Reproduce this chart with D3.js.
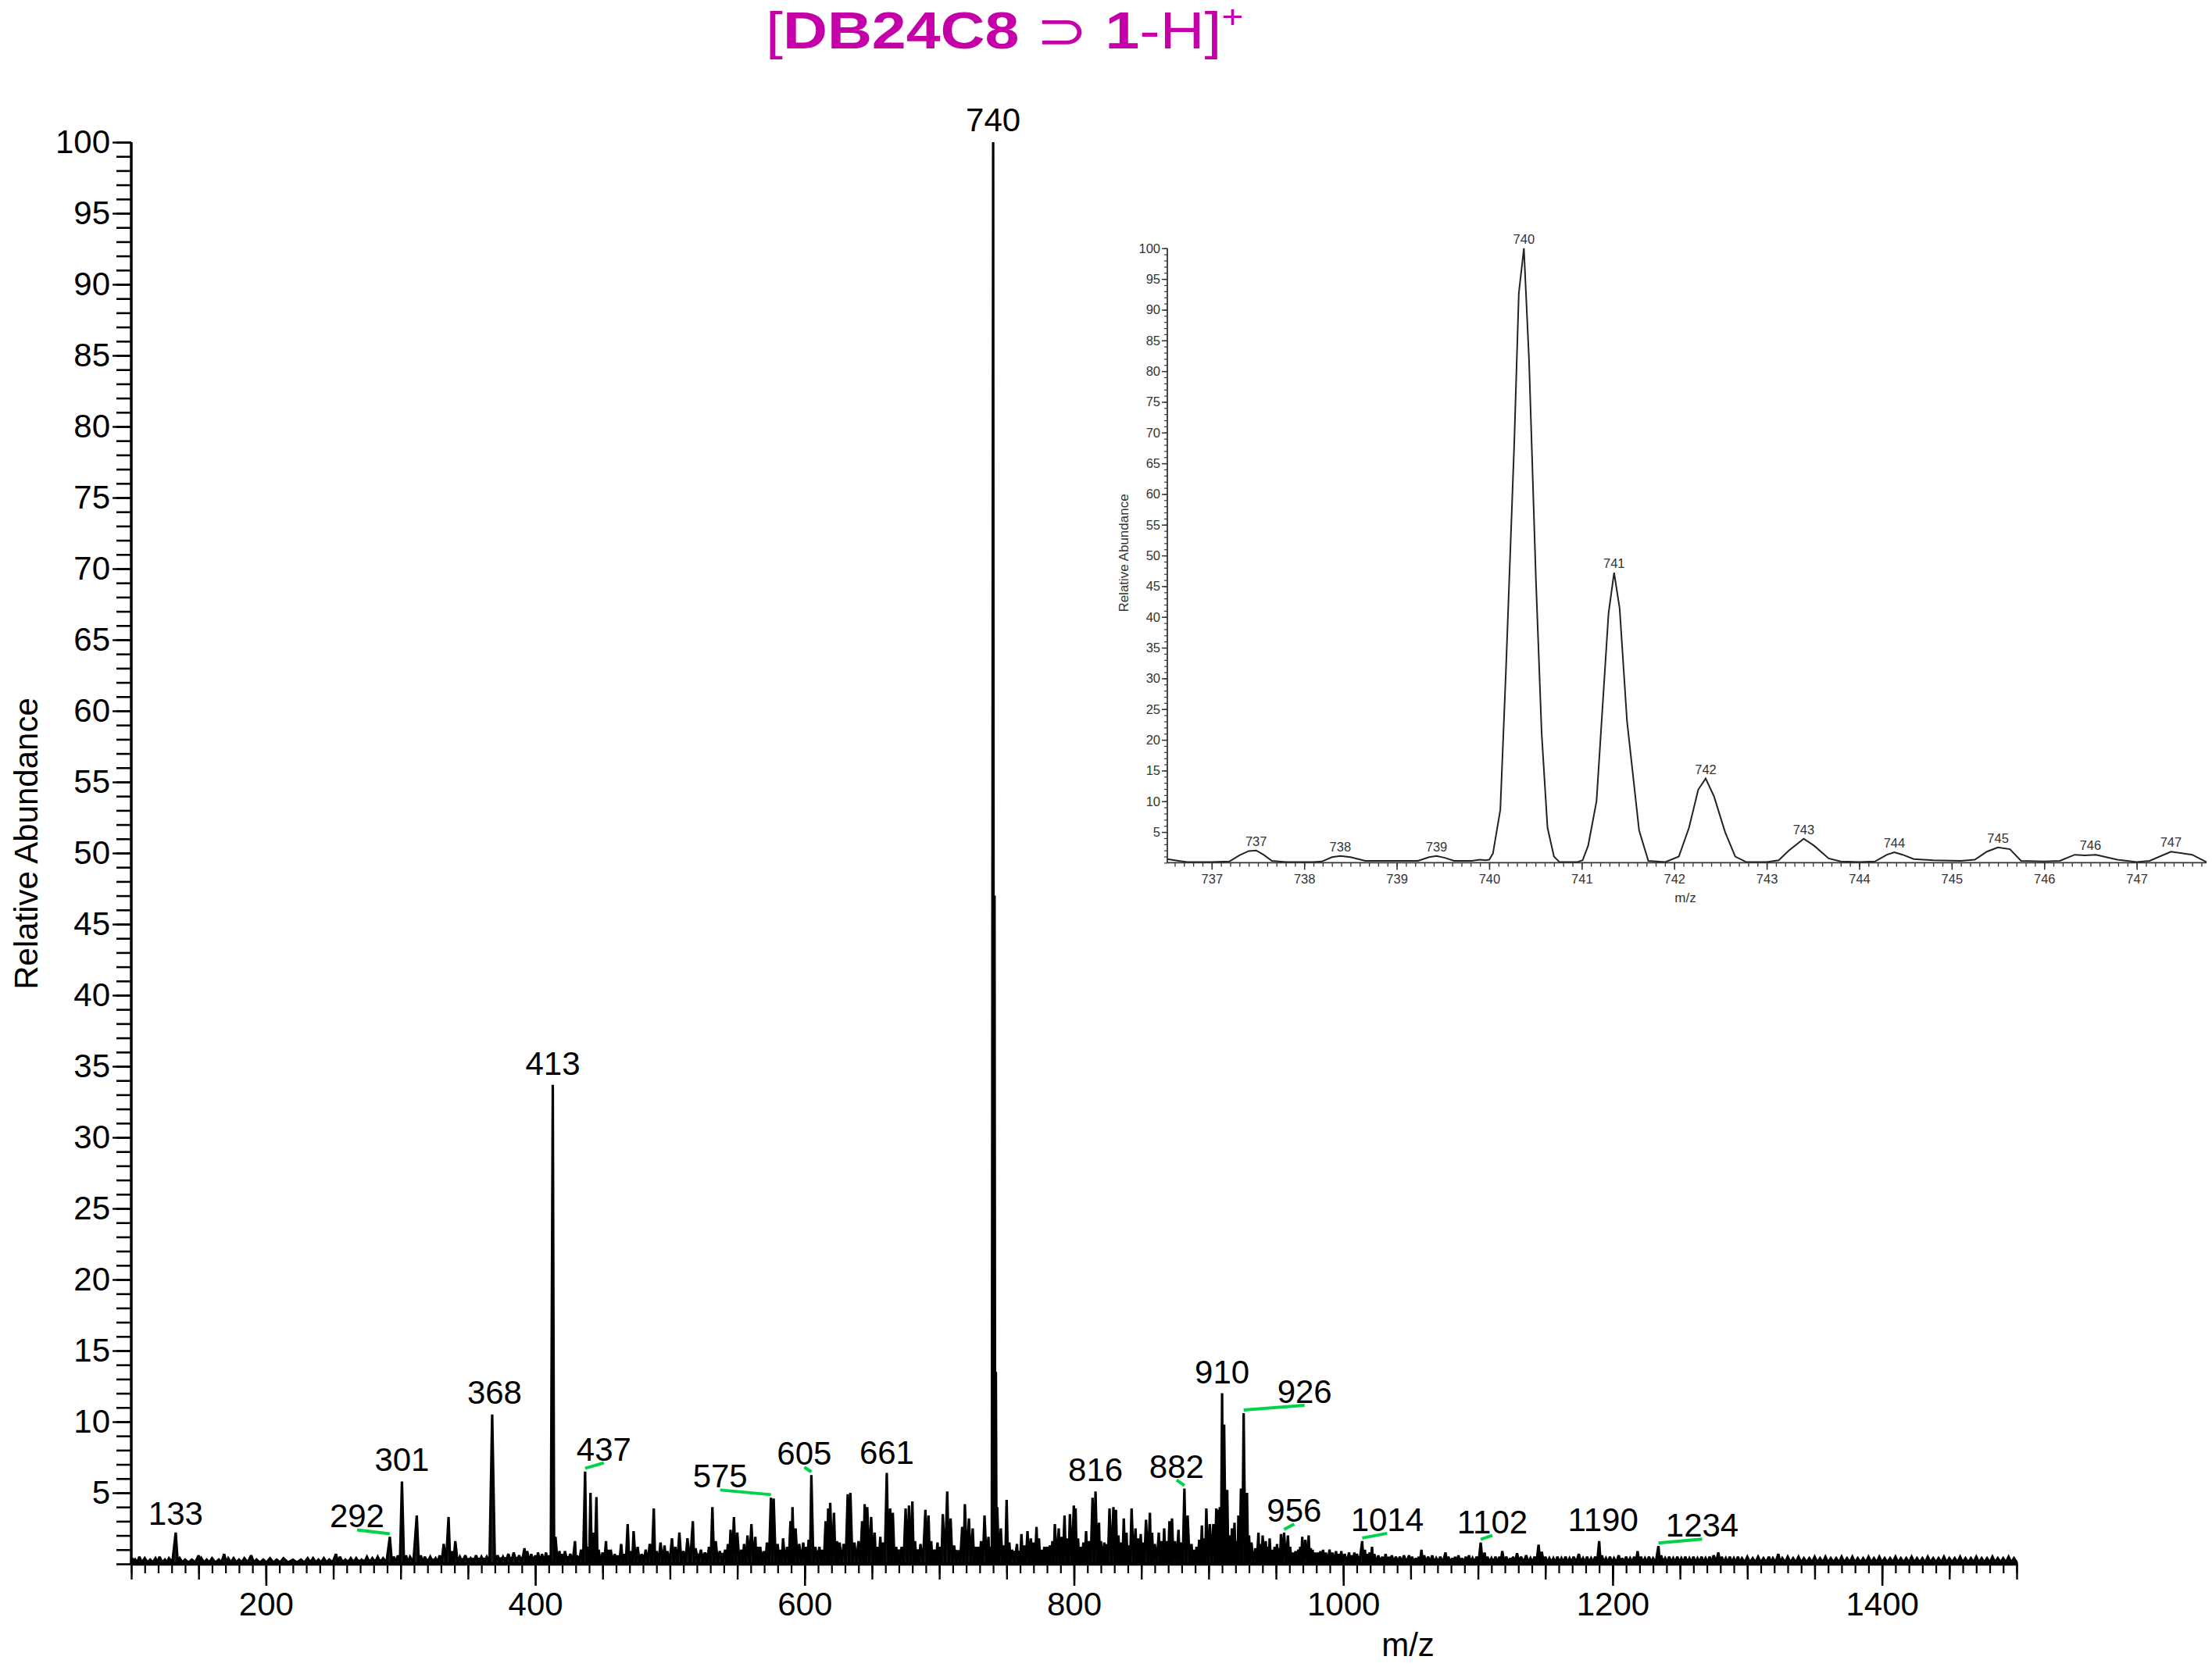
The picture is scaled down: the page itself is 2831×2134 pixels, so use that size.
<!DOCTYPE html>
<html><head><meta charset="utf-8">
<script src="https://cdn.jsdelivr.net/npm/d3@7/dist/d3.min.js"></script>
<style>
body{margin:0;background:#fff}
svg{display:block;background:#fff}
text{font-family:"Liberation Sans",Arial,Helvetica,sans-serif}
</style>
</head><body>
<svg id="c" width="2831" height="2134"></svg>
<script>
// ---------------- DATA ----------------
// main spectrum centroids [m/z, relative abundance]
const mainPeaks = [
[101,0.4],[103,0.3],[106,0.5],[110,0.4],[114,0.3],[118,0.4],[121,0.5],[125,0.3],[128,0.4],[133,2.2],[136,0.4],[140,0.3],[145,0.3],[150,0.6],[152,0.4],[156,0.3],[160,0.4],[165,0.3],[169,0.7],[172,0.4],[176,0.4],[180,0.3],[184,0.4],[189,0.6],[193,0.3],[198,0.3],[203,0.4],[208,0.3],[213,0.4],[220,0.3],[226,0.3],[231,0.4],[235,0.4],[239,0.3],[243,0.4],[247,0.3],[252,0.7],[255,0.5],[259,0.3],[263,0.4],[267,0.4],[271,0.3],[275,0.5],[279,0.4],[283,0.5],[287,0.4],[292,1.9],[295,0.5],[298,0.6],[301,5.8],[304,0.6],[307,0.5],[312,3.4],[315,0.6],[318,0.5],[322,0.5],[326,0.4],[329,0.6],[332,1.4],[335.6,3.3],[338,0.9],[340.6,1.6],[344,0.5],[348,0.6],[352,0.4],[356,0.6],[360,0.5],[364,0.5],[368,10.5],[372,0.6],[376,0.5],[380,0.7],[384,0.8],[388,0.6],[392,1.1],[394,0.9],[397,0.7],[400,0.6],[402,0.8],[405,0.7],[408,0.8],[410,0.6],[413,33.7],[415,1.9],[418,0.9],[420,0.7],
[422,0.9],[426,0.7],[429.5,1.6],[431,0.6],[434,1.0],[437,6.5],[439,1.2],[441,5.0],[443,2.2],[445.4,4.7],[447,1.0],[450,0.8],[452.5,1.6],[454,1.0],[456,1.0],[459,0.7],[461,0.6],[463.8,1.4],[466,0.7],[468.6,2.8],[471,0.9],[473,2.3],[476,1.2],[479,0.7],[482,1.0],[485,1.4],[488,3.9],[490,0.9],[493,1.5],[496,1.3],[498,0.9],[501.5,1.8],[504,1.2],[507,2.2],[510,0.9],[513,1.8],[517,3.0],[519,1.1],[523,1.0],[526,0.8],[529,1.2],[531.5,4.0],[534,1.6],[537,0.9],[541,1.0],[543,1.4],[545,2.4],[547.5,3.3],[550,2.2],[553,1.0],[555,1.4],[557.6,2.0],[560.5,2.8],[563.4,1.9],[565,1.2],[567,1.2],[570,0.9],[572,1.5],[575,4.65],[577,4.6],[580,1.4],[582,1.0],[584,1.8],[587,1.2],[589.5,3.0],[591,4.0],[593.3,2.5],[596,1.4],[599,1.5],[601,1.2],[603,1.7],[605,6.25],[608,1.2],[611,1.2],[613,1.0],[615.6,3.0],[617.5,3.9],[619,4.3],[621.8,3.6],[624,1.6],[626,1.5],[629,1.4],[632,4.9],[634,5.0],[637,1.5],[640,1.6],[642.7,3.0],[644.6,4.2],[646.5,4.0],[649.4,3.3],[652,2.2],[654,1.2],[656.2,1.9],[658,1.5],
[661,6.4],[663.5,3.9],[665.5,3.6],[668,1.2],[670,0.8],[672,1.2],[675,3.9],[677.5,4.1],[680,4.4],[682,1.6],[684,1.0],[686,1.4],[689.7,3.8],[692,3.4],[694,1.6],[696,1.0],[698.7,1.5],[700.5,1.2],[702.6,3.5],[705.9,5.1],[708.4,3.2],[711,1.3],[714,0.8],[717,2.6],[719,4.2],[722,3.2],[724.8,2.5],[727,1.2],[729,1.2],[731,1.6],[733.6,3.4],[736.5,1.9],[738,1.2],[740,100],[741,47],[742,13.5],[743,4],[745.7,2.5],[748,1.3],[750,4.5],[752,1.5],[754,1.0],[757.7,1.4],[759,0.9],[761,2.1],[763,1.3],[765.5,2.3],[768,1.8],[770,1.5],[772.2,2.6],[774,1.8],[776,1.0],[778,1.2],[780,1.2],[782,1.3],[784,1.6],[785.8,2.8],[788.7,2.5],[790.5,1.9],[793,3.4],[795,1.8],[797,3.5],[799.9,4.1],[801.2,3.9],[803,1.8],[805,1.2],[807,1.5],[809,2.3],[811,1.6],[813.8,4.65],[816,5.1],[818.6,2.9],[820,1.6],[822.5,1.5],[824,1.4],[826.4,3.9],[829.3,4.0],[831.2,3.8],[833,2.0],[835,1.5],[837,3.2],[839,2.2],[840.6,1.3],[842.8,3.9],[845.7,2.5],[847.5,1.8],[849.6,2.1],[851,1.5],[853.5,3.1],[856.4,3.6],[858,2.2],[860,1.4],[863,2.2],[865,1.6],[867,2.5],[869,1.6],[870.9,3.0],[872.8,3.2],[875,1.6],[877.6,2.4],[879.5,1.5],[882,5.3],[884.4,3.4],[887.3,1.4],[889,1.0],[891,1.2],[893,1.7],[895,2.7],[896.5,1.8],[898.3,3.9],[900.9,2.8],[903.5,2.8],[905.7,3.9],[907,3.8],[908.3,4.0],
[910,12.0],[911.5,9.8],[913.8,5.2],[915.5,2.0],[917.3,2.5],[919.2,2.9],[921,1.6],[922.1,3.4],[924,5.3],[926,10.6],[928.5,5.0],[930,2.0],[931.8,1.5],[934.7,1.1],[937,2.2],[938.5,1.4],[940.1,2.0],[942.4,1.6],[944,1.2],[945.3,1.8],[947.3,1.0],[949,1.2],[950.8,1.4],[952.2,1.1],[953.7,2.1],[956,2.2],[958.9,2.0],[960.5,1.2],[962.7,0.8],[964.5,0.9],[966.6,1.0],[968,1.2],[969.5,1.9],[971.8,1.7],[974.3,2.0],[975.8,1.1],[977.2,1.0],[979,0.8],[981.1,0.8],[983,0.9],[985,1.0],[987,0.8],[989.8,1.0],[992,0.8],[994.6,0.9],[996.5,0.7],[998.5,0.9],[1001,0.7],[1004.3,0.8],[1006,0.6],[1008.2,0.8],[1010,0.7],
[1014,1.6],[1016,1.0],[1018,0.7],[1019.5,0.8],[1021.3,1.2],[1023,0.7],[1026,0.6],[1029,0.5],[1031.4,0.7],[1034,0.5],[1036,0.6],[1039,0.5],[1042,0.5],[1045,0.6],[1048.8,0.6],[1051,0.5],[1054,0.4],[1056,0.5],[1058,1.0],[1060,0.6],[1063,0.5],[1066,0.6],[1069,0.4],[1072,0.5],[1075.9,0.8],[1078,0.5],[1081,0.4],[1083,0.5],[1085.5,0.6],[1088,0.4],[1091,0.5],[1093.3,0.6],[1096,0.4],[1099,0.5],[1102,1.5],[1104.9,0.8],[1107,0.5],[1110,0.4],[1113,0.5],[1116,0.5],[1118,0.9],[1121,0.5],[1124,0.4],[1126,0.5],[1129,0.75],[1132,0.5],[1135.8,0.6],[1139,0.4],[1142,0.5],[1145,1.35],[1147.4,0.85],[1150,0.5],[1153,0.4],[1156,0.4],[1159,0.5],[1162,0.4],[1165,0.5],[1168,0.4],[1171,0.5],[1174.9,0.7],[1178,0.4],[1181,0.5],[1184,0.4],[1187,0.5],[1190,1.6],[1192,0.6],[1195,0.4],[1198,0.5],[1201,0.4],[1204.5,0.6],[1207,0.4],[1210,0.5],[1213,0.4],[1216,0.5],[1218.5,0.9],[1221,0.5],[1224,0.4],[1227,0.5],[1230,0.4],[1234,1.25],[1236,0.6],[1239,0.4],[1242,0.5],[1245,0.4],[1248,0.5],[1251,0.4],[1254,0.5],[1257,0.4],[1260,0.5],[1263,0.4],[1266,0.5],[1269,0.4],[1272,0.5],[1275,0.6],[1278.5,0.8],[1281,0.5],[1284,0.4],[1287,0.5],[1290,0.4],[1293,0.5],[1296,0.4],[1300,0.5],[1304,0.4],[1308,0.5],[1312,0.4],[1316,0.5],[1319,0.4],[1323,0.7],[1326,0.4],[1330,0.5],[1334,0.4],[1338,0.5],[1342,0.4],[1346,0.4],[1350,0.5],[1354,0.4],[1358,0.5],[1362,0.4],[1366,0.4],[1370,0.5],[1374,0.4],[1378,0.5],[1382,0.4],[1386,0.4],[1390,0.5],[1394,0.4],[1398,0.5],[1402,0.4],[1406,0.4],[1410,0.5],[1414,0.4],[1418,0.4],[1422,0.5],[1426,0.4],[1430,0.4],[1434,0.5],[1438,0.4],[1442,0.4],[1446,0.5],[1450,0.4],[1454,0.4],[1458,0.5],[1462,0.4],[1466,0.4],[1470,0.5],[1474,0.4],[1478,0.4],[1482,0.5],[1486,0.4],[1490,0.4],[1494,0.5],[1498,0.4]
];
// chemical-noise floor [m/z, relative abundance]
const noiseFloor = [
[100,0.15],[240,0.15],[250,0.25],[290,0.3],[330,0.35],[380,0.45],[412,0.5],[450,0.55],[500,0.65],[560,0.8],[620,0.95],[680,1.0],[740,0.9],[800,0.85],[860,0.85],[905,0.9],[930,0.7],[960,0.6],[1000,0.45],[1050,0.35],[1150,0.3],[1300,0.25],[1500,0.25]
];
// labelled peaks (m/z of the peak, text)
const mainLabels = [
[133,"133"],[292,"292"],[301,"301"],[368,"368"],[413,"413"],[437,"437"],[575,"575"],[605,"605"],[661,"661"],[740,"740"],[816,"816"],[882,"882"],[910,"910"],[926,"926"],[956,"956"],[1014,"1014"],[1102,"1102"],[1190,"1190"],[1234,"1234"]
];
const mainXTicks = [200,400,600,800,1000,1200,1400];
const mainYTicks = [5,10,15,20,25,30,35,40,45,50,55,60,65,70,75,80,85,90,95,100];

// inset profile [m/z, relative abundance]
const insetProfile = [
[736.52,0.6],[736.6,0.4],[736.73,0.1],[737.0,0.1],[737.19,0.2],[737.3,1.2],[737.4,1.9],[737.48,2.0],[737.56,1.3],[737.65,0.3],[737.8,0.1],[738.1,0.1],[738.19,0.2],[738.3,0.9],[738.39,1.1],[738.5,0.9],[738.66,0.3],[739.0,0.3],[739.23,0.3],[739.35,0.9],[739.43,1.1],[739.52,0.8],[739.62,0.3],[739.81,0.3],[739.9,0.5],[739.96,0.4],
[740.0,0.5],[740.04,1.5],[740.12,8.6],[740.18,31],[740.27,68],[740.32,92.7],[740.375,100],[740.43,82],[740.505,46],[740.567,21],[740.63,5.7],[740.70,1.0],[740.76,0.1],[740.95,0.1],
[741.01,0.4],[741.07,2.8],[741.16,10],[741.29,40.6],[741.35,47.2],[741.41,41.4],[741.49,23],[741.62,5.3],[741.72,0.3],[741.9,0.1],
[742.05,1.0],[742.16,5.7],[742.26,11.9],[742.34,13.7],[742.43,10.8],[742.55,5.0],[742.66,1.0],[742.78,0.1],[743.0,0.1],
[743.13,0.4],[743.24,2.0],[743.4,3.9],[743.51,2.8],[743.67,0.7],[743.8,0.2],[744.0,0.1],
[744.17,0.2],[744.3,1.3],[744.38,1.7],[744.47,1.3],[744.59,0.6],[744.8,0.4],[745.1,0.3],
[745.25,0.5],[745.38,1.8],[745.5,2.5],[745.63,2.2],[745.75,0.3],[746.0,0.2],
[746.17,0.3],[746.33,1.3],[746.44,1.2],[746.56,1.3],[746.79,0.5],[747.0,0.1],
[747.14,0.3],[747.37,1.8],[747.6,1.3],[747.755,0.1]
];
const insetLabels = [
[737.48,2.0,"737"],[738.39,1.1,"738"],[739.43,1.1,"739"],[740.375,100,"740"],[741.35,47.2,"741"],[742.34,13.7,"742"],[743.4,3.9,"743"],[744.38,1.7,"744"],[745.5,2.5,"745"],[746.5,1.3,"746"],[747.37,1.8,"747"]
];
const insetXTicks = [737,738,739,740,741,742,743,744,745,746,747];
const insetYTicks = [5,10,15,20,25,30,35,40,45,50,55,60,65,70,75,80,85,90,95,100];

// ---------------- LAYOUT (positions / styles) ----------------
const MAG = "#c400a8", GREEN = "#00d24a";
// label offsets relative to peak x / peak top (px); third item = green leader line
const labelLayout = {
 "133":[0,-10],"292":[-42,-12,1],"301":[0,-13],"368":[3,-14],"413":[0,-13],"437":[24,-14,1],
 "575":[-65,-13,1],"605":[-9,-13,1],"661":[0,-12],"740":[0,-14],"816":[0,-13],"882":[-10,-14,1],
 "910":[0,-13],"926":[78,-13,1],"956":[13,-14,1],"1014":[32,-13,1],"1102":[15,-12,1],"1190":[5,-13],"1234":[56,-12,1]
};

const svg = d3.select("#c");
const x = d3.scaleLinear().domain([100,1500]).range([168,2581]);
const y = d3.scaleLinear().domain([0,100]).range([2002,182]);

// ---------- title ----------
const tg = svg.append("g").attr("transform","translate(980,62) scale(1.195,1)");
const tt = tg.append("text").attr("x",0).attr("y",0).attr("fill",MAG).attr("font-size",66);
tt.append("tspan").text("[");
tt.append("tspan").attr("font-weight","bold").text("DB24C8");
tt.append("tspan").text(" \u2283 ");
tt.append("tspan").attr("font-weight","bold").text("1");
tt.append("tspan").text("-H]");
tt.append("tspan").attr("font-size",40).attr("dy",-26).text("+");

// ---------- spectrum ----------
svg.append("path").datum(noiseFloor)
  .attr("d", d3.area().x(d=>x(d[0])).y0(y(0)).y1(d=>y(d[1])))
  .attr("fill","#111").attr("stroke","#000").attr("stroke-width",1);
const FLOOR = 0.1;
const pk = mainPeaks.slice().sort((a,b)=>a[0]-b[0]);
const pts = [[100,FLOOR]];
pk.forEach((p,i)=>{ if(i>0) pts.push([(pk[i-1][0]+p[0])/2, FLOOR]); pts.push(p); });
pts.push([1500,FLOOR]);
svg.append("path").datum(pts)
  .attr("d", d3.area().x(d=>x(d[0])).y0(y(0)).y1(d=>y(d[1])))
  .attr("fill","#1a1a1a").attr("stroke","#000").attr("stroke-width",3.2).attr("stroke-linejoin","miter").attr("stroke-miterlimit",2.5);

// ---------- main axes ----------
function styleAxis(g, w){ g.selectAll("path,line").attr("stroke","#000").attr("stroke-width",w); g.select(".domain").remove(); }
const ax1 = svg.append("g").attr("transform",`translate(0,${y(0)})`)
  .call(d3.axisBottom(x).tickValues(d3.range(100,1501,10)).tickSize(12).tickFormat(""));
styleAxis(ax1,2.2);
const ax2 = svg.append("g").attr("transform",`translate(0,${y(0)})`)
  .call(d3.axisBottom(x).tickValues(d3.range(100,1501,50)).tickSize(20).tickFormat(""));
styleAxis(ax2,2.4);
const ax3 = svg.append("g").attr("transform",`translate(0,${y(0)})`)
  .call(d3.axisBottom(x).tickValues(mainXTicks).tickSize(28).tickPadding(8).tickFormat(d3.format("d")));
styleAxis(ax3,2.6);
ax3.selectAll("text").attr("font-size",42).attr("fill","#000").attr("font-family","Liberation Sans, Arial, sans-serif");
svg.append("line").attr("x1",x(100)).attr("x2",x(1500)).attr("y1",y(0)).attr("y2",y(0)).attr("stroke","#000").attr("stroke-width",4.5);

const ay1 = svg.append("g").attr("transform",`translate(${x(100)},0)`)
  .call(d3.axisLeft(y).tickValues(d3.range(0,101,1)).tickSize(19).tickFormat(""));
styleAxis(ay1,2.6);
const ay2 = svg.append("g").attr("transform",`translate(${x(100)},0)`)
  .call(d3.axisLeft(y).tickValues(mainYTicks).tickSize(24).tickPadding(3));
styleAxis(ay2,2.4);
ay2.selectAll("text").attr("font-size",42).attr("fill","#000").attr("font-family","Liberation Sans, Arial, sans-serif");
svg.append("line").attr("x1",x(100)).attr("x2",x(100)).attr("y1",y(0)).attr("y2",y(100)).attr("stroke","#000").attr("stroke-width",3.5);

svg.append("text").attr("x",1802).attr("y",2120).attr("text-anchor","middle").attr("font-size",42).text("m/z");
svg.append("text").attr("transform","translate(48,1080) rotate(-90)").attr("text-anchor","middle").attr("font-size",42).text("Relative Abundance");

// ---------- peak labels ----------
const inten = new Map(mainPeaks.map(d=>[d[0],d[1]]));
mainLabels.forEach(([mz,t])=>{
  const L = labelLayout[t], px = x(mz), py = y(inten.get(mz));
  const lx = px + L[0], ly = py + L[1];
  if (L[2]) svg.append("line").attr("x1",px).attr("y1",py-4).attr("x2",lx).attr("y2",ly+3)
      .attr("stroke",GREEN).attr("stroke-width",4);
  svg.append("text").attr("x",lx).attr("y",ly).attr("text-anchor","middle").attr("font-size",42).attr("fill","#000").text(t);
});

// ---------- inset ----------
const xi = d3.scaleLinear().domain([736.52,747.755]).range([1494,2824]);
const yi = d3.scaleLinear().domain([0,100]).range([1104.4,317.8]);
const INK = "#333";
svg.append("path").datum(insetProfile)
  .attr("d", d3.line().x(d=>xi(d[0])).y(d=>yi(d[1])))
  .attr("fill","none").attr("stroke","#222").attr("stroke-width",2);
function styleI(g,w){ g.selectAll("line").attr("stroke",INK).attr("stroke-width",w); g.select(".domain").remove(); }
const ix1 = svg.append("g").attr("transform",`translate(0,${yi(0)})`)
  .call(d3.axisBottom(xi).tickValues(d3.range(736.6,747.75,0.1)).tickSize(5).tickFormat(""));
styleI(ix1,1.3);
const ix2 = svg.append("g").attr("transform",`translate(0,${yi(0)})`)
  .call(d3.axisBottom(xi).tickValues(insetXTicks).tickSize(9).tickPadding(6));
styleI(ix2,1.6);
ix2.selectAll("text").attr("font-size",16.5).attr("fill",INK).attr("font-family","Liberation Sans, Arial, sans-serif");
svg.append("line").attr("x1",xi(736.52)).attr("x2",xi(747.755)).attr("y1",yi(0)).attr("y2",yi(0)).attr("stroke",INK).attr("stroke-width",1.8);

const iy1 = svg.append("g").attr("transform",`translate(${xi(736.52)},0)`)
  .call(d3.axisLeft(yi).tickValues(d3.range(0,101,1)).tickSize(4).tickFormat(""));
styleI(iy1,1.2);
const iy2 = svg.append("g").attr("transform",`translate(${xi(736.52)},0)`)
  .call(d3.axisLeft(yi).tickValues(insetYTicks).tickSize(7).tickPadding(2));
styleI(iy2,1.5);
iy2.selectAll("text").attr("font-size",16.5).attr("fill",INK).attr("font-family","Liberation Sans, Arial, sans-serif");
svg.append("line").attr("x1",xi(736.52)).attr("x2",xi(736.52)).attr("y1",yi(0)).attr("y2",yi(100)).attr("stroke",INK).attr("stroke-width",1.8);

insetLabels.forEach(([mz,v,t])=>{
  svg.append("text").attr("x",xi(mz)).attr("y",yi(v)-6).attr("text-anchor","middle")
    .attr("font-size",16.5).attr("fill",INK).text(t);
});
svg.append("text").attr("x",2157).attr("y",1155).attr("text-anchor","middle").attr("font-size",17).attr("fill",INK).text("m/z");
svg.append("text").attr("transform","translate(1444,708) rotate(-90)").attr("text-anchor","middle").attr("font-size",17).attr("fill",INK).text("Relative Abundance");
</script>
</body></html>
